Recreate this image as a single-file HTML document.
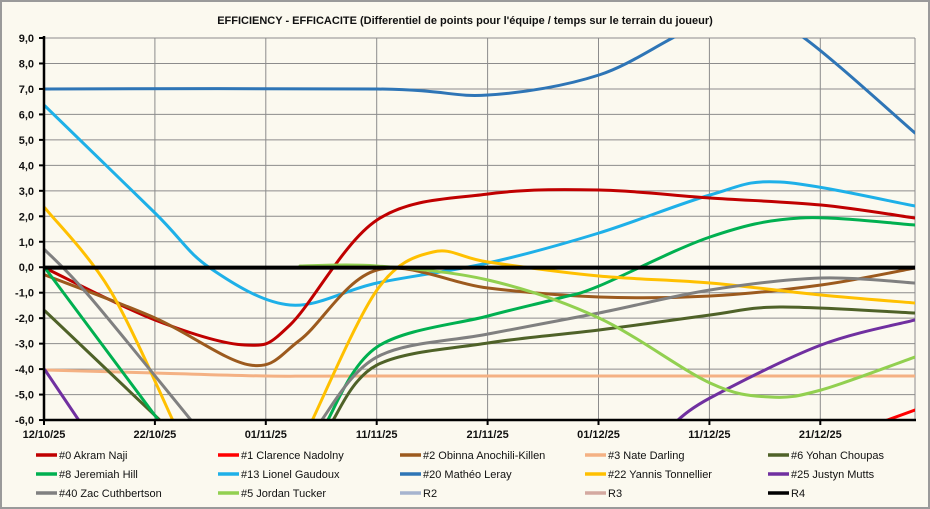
<!DOCTYPE html>
<html><head><meta charset="utf-8"><style>
body{margin:0;background:#fff}
svg{display:block;font-family:"Liberation Sans",sans-serif}
</style></head><body>
<svg id="s" width="930" height="509" xmlns="http://www.w3.org/2000/svg">
<rect x="1" y="1" width="928" height="507" fill="#FBF9EF" stroke="#9a9a9a" stroke-width="2"/>
<text x="465" y="24" text-anchor="middle" font-size="11" font-weight="bold" fill="#111">EFFICIENCY - EFFICACITE  (Differentiel de points pour l'équipe / temps sur le terrain du joueur)</text>
<g id="grid" stroke="#8c8c8c" stroke-width="1"></g>
<defs><clipPath id="c"><rect x="44" y="38" width="871" height="382"/></clipPath></defs>
<g id="series" clip-path="url(#c)" fill="none" stroke-width="3" stroke-linecap="round"></g>
<line x1="44" y1="267.6" x2="915" y2="267.6" stroke="#000" stroke-width="4"/>
<line x1="44" y1="36" x2="44" y2="421" stroke="#000" stroke-width="2.5"/>
<line x1="43" y1="420" x2="916" y2="420" stroke="#000" stroke-width="2.5"/>
<g id="labels" font-size="11" font-weight="bold" fill="#111"></g>
<g id="legend" font-size="11" fill="#111"></g>
</svg>
<script>
var ns="http://www.w3.org/2000/svg";
function el(p,t,a,txt){var e=document.createElementNS(ns,t);for(var k in a)e.setAttribute(k,a[k]);if(txt)e.textContent=txt;document.getElementById(p).appendChild(e);}
function Y(v){return 38+(9-v)*25.47;}
for(var v=-6;v<=9;v++){el("grid","line",{x1:44,x2:915,y1:Y(v),y2:Y(v)});el("grid","line",{x1:39,x2:44,y1:Y(v),y2:Y(v),stroke:"#000","stroke-width":2});
 el("labels","text",{x:34,y:Y(v)+4,"text-anchor":"end"},v.toFixed(1).replace(".",","));}
var dates=["12/10/25","22/10/25","01/11/25","11/11/25","21/11/25","01/12/25","11/12/25","21/12/25"];
for(var i=0;i<8;i++){var x=44+i*110.9;if(i>0)el("grid","line",{x1:x,x2:x,y1:38,y2:420});el("grid","line",{x1:x,x2:x,y1:420,y2:425,stroke:"#000","stroke-width":2});
 el("labels","text",{x:x,y:438,"text-anchor":"middle"},dates[i]);}
el("grid","line",{x1:915,x2:915,y1:38,y2:420});
function path(pts){var d="M"+pts[0][0]+","+pts[0][1];for(var i=0;i<pts.length-1;i++){var p0=pts[i-1]||pts[i],p1=pts[i],p2=pts[i+1],p3=pts[i+2]||p2;
 d+=" C"+(p1[0]+(p2[0]-p0[0])/6)+","+(p1[1]+(p2[1]-p0[1])/6)+" "+(p2[0]-(p3[0]-p1[0])/6)+","+(p2[1]-(p3[1]-p1[1])/6)+" "+p2[0]+","+p2[1];}return d;}
var S=[
["#F4B183",[[45,370],[155,373],[266,376],[377,376],[915,376]]],
["#2E75B6",[[45,89],[377,89],[488,95],[599,75],[690,30],[750,20],[800,35],[915,133]]],
["#1EB0E8",[[45,106],[155,213],[210,268],[290,305],[377,283],[488,263],[599,233],[710,195],[780,182],[915,206]]],
["#C00000",[[45,268],[155,320],[245,345],[290,325],[377,220],[488,194],[599,190],[710,198],[821,205],[915,218]]],
["#FF0000",[[860,430],[915,410]]],
["#9C5A1E",[[45,275],[155,318],[250,365],[300,340],[377,270],[488,288],[599,297],[710,296],[821,285],[915,268]]],
["#4F6228",[[45,311],[165,425]]],
["#4F6228",[[330,425],[377,365],[488,343],[599,330],[710,315],[780,307],[915,313]]],
["#00B050",[[45,268],[162,425]]],
["#00B050",[[325,425],[377,347],[488,316],[560,298],[599,286],[710,237],[800,218],[915,225]]],
["#FFC000",[[45,208],[110,290],[175,425]]],
["#FFC000",[[310,425],[377,290],[433,252],[488,262],[599,276],[710,283],[821,295],[915,303]]],
["#7030A0",[[45,370],[82,425]]],
["#7030A0",[[672,425],[710,398],[821,345],[915,320]]],
["#808080",[[45,250],[90,297],[195,425]]],
["#808080",[[318,425],[377,357],[488,334],[599,313],[710,290],[821,278],[915,283]]],
["#92D050",[[300,266],[377,266],[488,280],[599,318],[710,383],[770,397],[821,390],[915,357]]]
];
S.forEach(function(s){el("series","path",{d:path(s[1]),stroke:s[0]});});
var L=[["#C00000","#0 Akram Naji"],["#FF0000","#1 Clarence Nadolny"],["#9C5A1E","#2 Obinna Anochili-Killen"],["#F4B183","#3 Nate Darling"],["#4F6228","#6 Yohan Choupas"],
["#00B050","#8 Jeremiah Hill"],["#1EB0E8","#13 Lionel Gaudoux"],["#2E75B6","#20 Mathéo Leray"],["#FFC000","#22 Yannis Tonnellier"],["#7030A0","#25 Justyn Mutts"],
["#808080","#40 Zac Cuthbertson"],["#92D050","#5 Jordan Tucker"],["#A6B4CF","R2"],["#D4A9A0","R3"],["#000","R4"]];
var cx=[36,218,400,585,768];
L.forEach(function(l,i){var c=i%5,r=Math.floor(i/5),y=455+r*19;
 el("legend","line",{x1:cx[c],x2:cx[c]+21,y1:y,y2:y,stroke:l[0],"stroke-width":3.5});
 el("legend","text",{x:cx[c]+23,y:y+4},l[1]);});
</script>
</body></html>
